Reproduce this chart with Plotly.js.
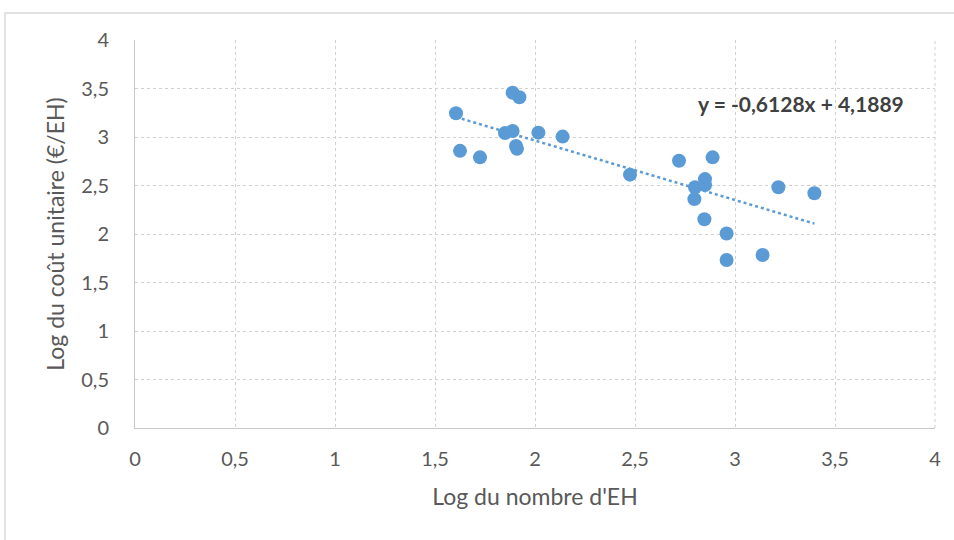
<!DOCTYPE html>
<html>
<head>
<meta charset="utf-8">
<script src="https://cdn.plot.ly/plotly-3.0.1.min.js"></script>
<style>html,body{margin:0;padding:0;background:#fff;}#chart{width:954px;height:540px;}</style>
</head>
<body>
<div id="chart"></div>
<script>
// Data
const logEH = [1.605, 1.625, 1.725, 1.85, 1.888, 1.922, 1.888, 1.905, 1.91, 2.017, 2.138,
               2.475, 2.72, 2.888, 2.8, 2.797, 2.85, 2.85, 2.847, 2.958, 2.958, 3.138, 3.217, 3.397];
const logCost = [3.245, 2.857, 2.79, 3.04, 3.457, 3.41, 3.062, 2.908, 2.878, 3.045, 3.004,
                 2.612, 2.755, 2.79, 2.482, 2.36, 2.504, 2.566, 2.152, 2.005, 1.732, 1.783, 2.482, 2.42];
const slope = -0.6128;
const intercept = 4.1889;
const equationText = "y = -0,6128x + 4,1889";
const xTitle = "Log du nombre d'EH";
const yTitle = "Log du coût unitaire (€/EH)";

const xMin = Math.min(...logEH), xMax = Math.max(...logEH);
const trendX = [xMin, xMax];
const trendY = trendX.map(v => slope * v + intercept);

const blue = '#5B9BD5';
const data = [
  {x: logEH, y: logCost, type: 'scatter', mode: 'markers',
   marker: {color: blue, size: 14}, hoverinfo: 'x+y', showlegend: false},
  {x: trendX, y: trendY, type: 'scatter', mode: 'lines',
   line: {color: blue, width: 2.5, dash: 'dot'}, showlegend: false}
];

const gridCol = '#d0d0d0';
const txt = '#595959';
const fam = 'Lato, sans-serif';
const layout = {
  width: 954, height: 540,
  margin: {l: 135, r: 19, t: 40, b: 112},
  paper_bgcolor: '#fff', plot_bgcolor: '#fff',
  separators: ', ',
  font: {family: fam, color: txt, size: 20},
  xaxis: {
    range: [0, 4], dtick: 0.5, tick0: 0, showgrid: true, gridcolor: gridCol, griddash: 'dot', gridwidth: 1,
    zeroline: false, showline: true, linecolor: '#c8c8c8', linewidth: 1, mirror: false,
    ticks: 'outside', ticklen: 13, tickcolor: 'rgba(0,0,0,0)', tickfont: {family: fam, size: 20, color: txt},
    title: {text: xTitle, font: {family: fam, size: 23, color: txt}, standoff: 19}
  },
  yaxis: {
    range: [0, 4], dtick: 0.5, tick0: 0, showgrid: true, gridcolor: gridCol, griddash: 'dot', gridwidth: 1,
    zeroline: false, showline: true, linecolor: '#c8c8c8', linewidth: 1,
    ticks: 'outside', ticklen: 21, tickcolor: 'rgba(0,0,0,0)', tickfont: {family: fam, size: 20, color: txt},
    title: {text: yTitle, font: {family: fam, size: 23, color: txt}, standoff: 10}
  },
  shapes: [
    {type: 'line', xref: 'paper', yref: 'paper', x0: 1, x1: 1, y0: 0, y1: 1,
     line: {color: gridCol, width: 1, dash: 'dot'}},
    {type: 'rect', xref: 'paper', yref: 'paper', x0: -0.1625, x1: 1.2, y0: -0.4, y1: 1.0696,
     line: {color: '#d9d9d9', width: 1.5}, layer: 'below'}
  ],
  annotations: [
    {x: 3.33, y: 3.35, xref: 'x', yref: 'y', text: '<b>' + equationText + '</b>', showarrow: false,
     font: {family: fam, size: 21, color: '#404040'}}
  ]
};
Plotly.newPlot('chart', data, layout, {staticPlot: true});
</script>
</body>
</html>
